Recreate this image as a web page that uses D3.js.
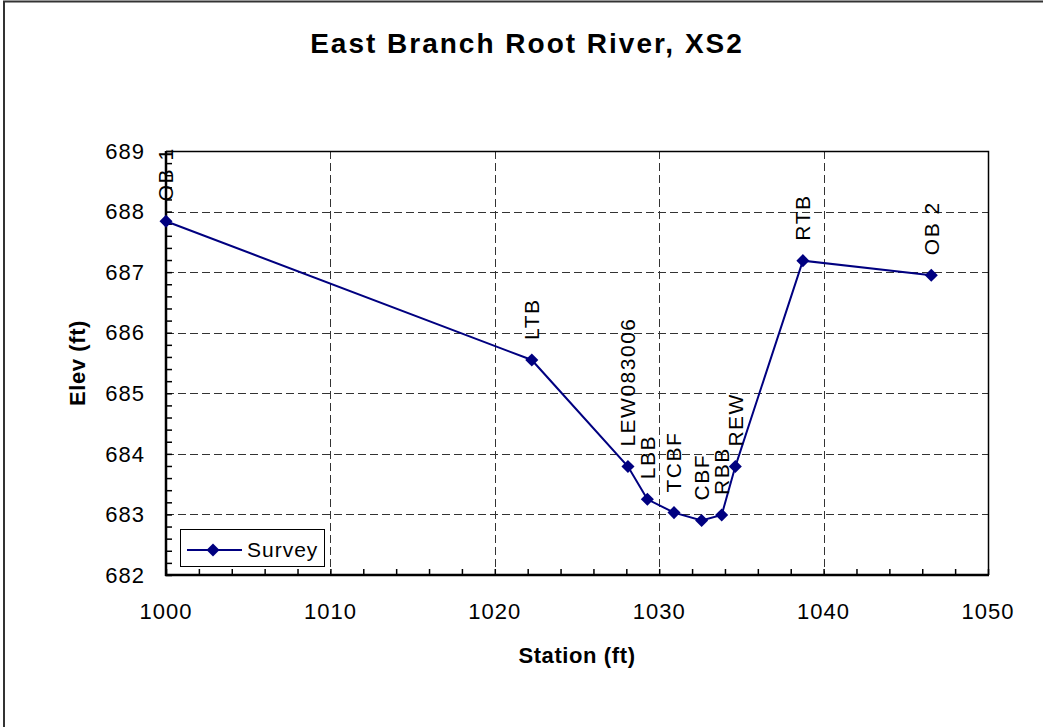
<!DOCTYPE html>
<html><head><meta charset="utf-8">
<script src="https://cdn.jsdelivr.net/npm/d3@7"></script>
<style>
html,body{margin:0;padding:0;background:#fff;}
svg{display:block;font-family:"Liberation Sans",Arial,sans-serif;}
</style></head>
<body>
<svg id="chart" width="1043" height="727"></svg>
<script>
const title = "East Branch Root River, XS2";
const xTitle = "Station (ft)";
const yTitle = "Elev (ft)";
const seriesName = "Survey";
const pointLabels = ["OB 1","LTB","LEW083006","LBB","TCBF","CBF","RBB","REW","RTB","OB 2"];
const stations = [1000, 1022.25, 1028.1, 1029.28, 1030.9, 1032.58, 1033.8, 1034.63, 1038.74, 1046.55];
const elevations = [687.84, 685.55, 683.79, 683.25, 683.03, 682.90, 682.99, 683.79, 687.19, 686.95];
const xTicks = [1000, 1010, 1020, 1030, 1040, 1050];
const yTicks = [682, 683, 684, 685, 686, 687, 688, 689];

const svg = d3.select("#chart");
const L = 166, R = 988, T = 151, B = 575;
const x = d3.scaleLinear().domain([1000, 1050]).range([L, R]);
const y = d3.scaleLinear().domain([682, 689]).range([B, T]);

// outer frame
svg.append("rect").attr("x", 4).attr("y", 1.5).attr("width", 1050).attr("height", 740)
  .attr("fill", "#fff").attr("stroke", "#333").attr("stroke-width", 2);

// title
svg.append("text").attr("x", 527).attr("y", 53).attr("text-anchor", "middle")
  .attr("font-size", 28).attr("font-weight", "bold").attr("letter-spacing", 2).text(title);

// gridlines
const grid = svg.append("g").attr("stroke", "#333").attr("stroke-width", 1).attr("stroke-dasharray", "8,4");
grid.selectAll("line.h").data(yTicks.filter(d => d > 682 && d < 689)).join("line")
  .attr("x1", L).attr("x2", R).attr("y1", d => Math.round(y(d)) + 0.5).attr("y2", d => Math.round(y(d)) + 0.5);
grid.selectAll("line.v").data(xTicks.filter(d => d > 1000 && d < 1050)).join("line")
  .attr("y1", T).attr("y2", B).attr("x1", d => Math.round(x(d)) + 0.5).attr("x2", d => Math.round(x(d)) + 0.5);

// plot border top/right
svg.append("path").attr("d", `M${L},${T + 0.5}H${R + 0.5}V${B}`).attr("fill", "none").attr("stroke", "#000").attr("stroke-width", 1.5);

// axes
const xAxis = d3.axisBottom(x).tickValues(d3.range(1000, 1051, 2)).tickSize(-6).tickFormat("");
const gx = svg.append("g").attr("transform", `translate(0,${B})`).call(xAxis);
gx.select(".domain").remove();
gx.selectAll("line").attr("stroke", "#000").attr("stroke-width", 1.5);
const yAxis = d3.axisLeft(y).tickValues(d3.range(682, 689.001, 0.2)).tickSize(-6).tickFormat("");
const gy = svg.append("g").attr("transform", `translate(${L},0)`).call(yAxis);
gy.select(".domain").remove();
gy.selectAll("line").attr("stroke", "#000").attr("stroke-width", 1.5);

svg.append("line").attr("x1", L - 1).attr("x2", R + 1).attr("y1", B).attr("y2", B).attr("stroke", "#000").attr("stroke-width", 2.5);
svg.append("line").attr("x1", L).attr("x2", L).attr("y1", T).attr("y2", B + 1).attr("stroke", "#000").attr("stroke-width", 2.5);

// tick labels
svg.append("g").selectAll("text").data(xTicks).join("text")
  .attr("x", d => x(d)).attr("y", 619).attr("text-anchor", "middle")
  .attr("font-size", 22).attr("letter-spacing", 1).text(d => d);
svg.append("g").selectAll("text").data(yTicks).join("text")
  .attr("x", 145).attr("y", d => y(d)).attr("dy", "0.35em").attr("text-anchor", "end")
  .attr("font-size", 22).attr("letter-spacing", 1).text(d => d);

// axis titles
svg.append("text").attr("x", 577).attr("y", 663).attr("text-anchor", "middle")
  .attr("font-size", 22).attr("font-weight", "bold").attr("letter-spacing", 0.6).text(xTitle);
svg.append("text").attr("transform", `translate(85,${(T + B) / 2}) rotate(-90)`).attr("text-anchor", "middle")
  .attr("font-size", 22).attr("font-weight", "bold").attr("letter-spacing", 0.6).text(yTitle);

// series
const data = stations.map((s, i) => ({ x: s, y: elevations[i], label: pointLabels[i] }));
const line = d3.line().x(d => x(d.x)).y(d => y(d.y));
svg.append("path").datum(data).attr("d", line).attr("fill", "none").attr("stroke", "#000080").attr("stroke-width", 2);
svg.append("g").selectAll("path").data(data).join("path")
  .attr("d", d3.symbol().type(d3.symbolSquare).size(85))
  .attr("transform", d => `translate(${x(d.x)},${y(d.y)}) rotate(45)`)
  .attr("fill", "#000080");

// point labels
svg.append("g").selectAll("text").data(data).join("text")
  .attr("transform", d => `translate(${x(d.x)},${y(d.y) - 20}) rotate(-90)`)
  .attr("dy", "0.35em").attr("text-anchor", "start")
  .attr("font-size", 21).attr("letter-spacing", 1.5).text(d => d.label);

// legend
const lg = svg.append("g");
lg.append("rect").attr("x", 180.5).attr("y", 529.5).attr("width", 144).attr("height", 37)
  .attr("fill", "#fff").attr("stroke", "#000").attr("stroke-width", 1);
lg.append("line").attr("x1", 187).attr("x2", 242).attr("y1", 550).attr("y2", 550).attr("stroke", "#000080").attr("stroke-width", 2);
lg.append("path").attr("d", d3.symbol().type(d3.symbolSquare).size(85)).attr("transform", "translate(213,550) rotate(45)").attr("fill", "#000080");
lg.append("text").attr("x", 247).attr("y", 557).attr("font-size", 21).attr("letter-spacing", 1).text(seriesName);
</script>
</body></html>
